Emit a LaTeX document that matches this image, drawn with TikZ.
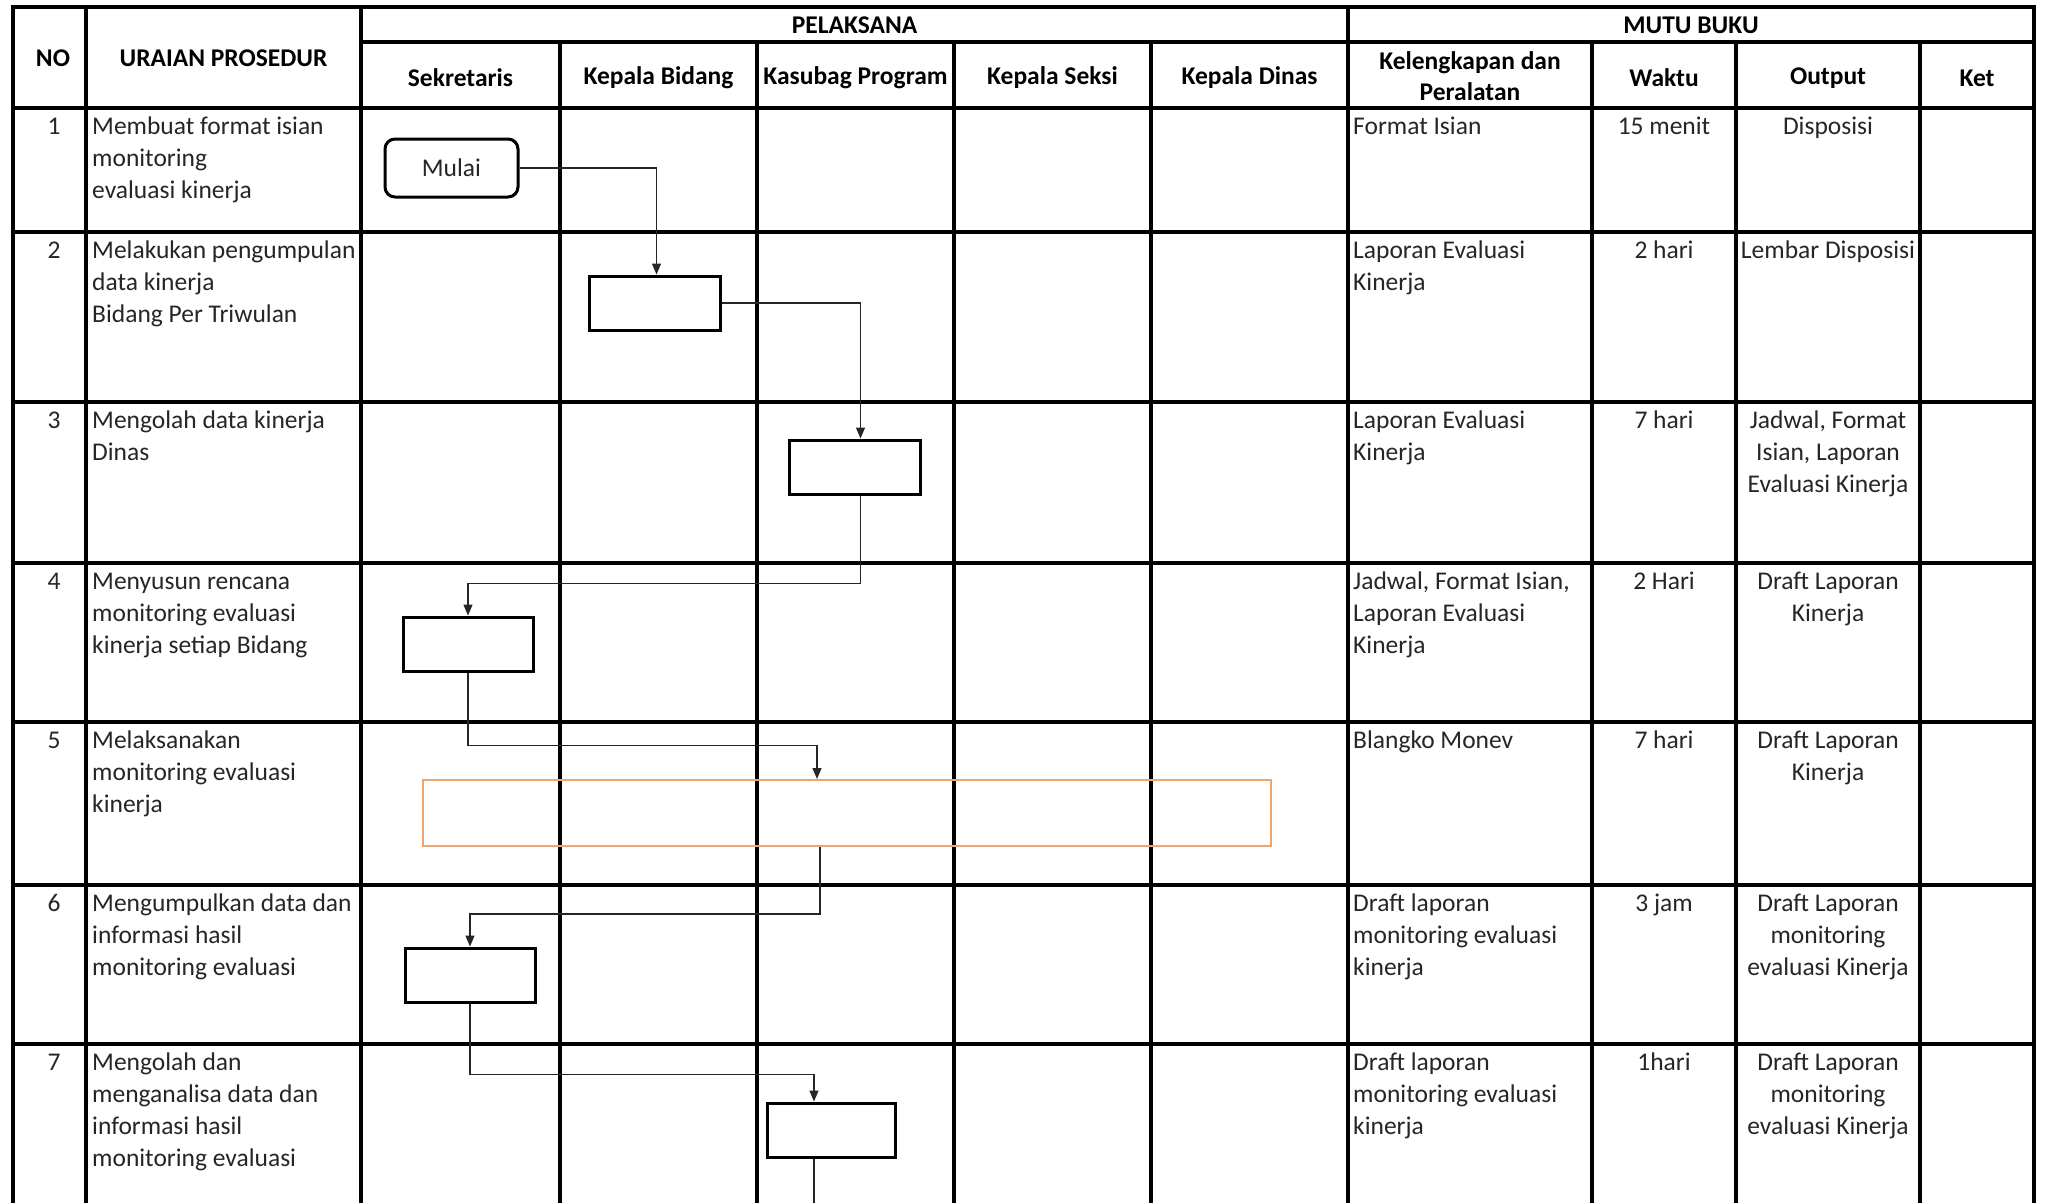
\documentclass[tikz,border=0pt]{standalone}
\usepackage{fontspec}
\setmainfont{Carlito}
\usetikzlibrary{arrows.meta}
\definecolor{orangeln}{RGB}{240,165,110}
\newcommand\cellfont{\fontsize{25.5}{32}\selectfont}
\newcommand\hdfont{\fontsize{25.5}{31}\selectfont\bfseries}
\begin{document}
\begin{tikzpicture}[x=1pt,y=-1pt,
  grid/.style={line width=3.5pt, line cap=rect},
  hd/.style={font=\hdfont, inner sep=0pt, align=center},
  cell/.style={font=\cellfont, inner sep=0pt, anchor=north west, align=left, text=black!85},
  ctr/.style={font=\cellfont, inner sep=0pt, anchor=north, align=center, text=black!85},
  proc/.style={draw, line width=3pt, minimum width=131pt, minimum height=54pt, inner sep=0pt},
  conn/.style={line width=1.4pt, draw=black!85},
  arr/.style={conn, -{Triangle[length=11pt,width=9pt]}}
]
\useasboundingbox (0,0) rectangle (2047,1202);
\fill[white] (0,0) rectangle (2047,1202);

% grid
\draw[grid] (13,7) -- (2034,7);
\draw[grid] (361,42) -- (2034,42);
\foreach \y in {108,232,402,563,722,885,1044} \draw[grid] (13,\y) -- (2034,\y);
\foreach \x in {13,86,361,1348,2034} \draw[grid] (\x,7) -- (\x,1210);
\foreach \x in {560,757,954,1151,1592,1736,1920} \draw[grid] (\x,42) -- (\x,1210);

% header
\node[hd] (hno) at (53,58) {NO};
\node[hd] (hur) at (223.5,58) {URAIAN PROSEDUR};
\node[hd] (hpel) at (854.5,25) {PELAKSANA};
\node[hd] (hmutu) at (1691,25) {MUTU BUKU};
\node[hd] (hsek) at (460.5,78) {Sekretaris};
\node[hd] (hkb) at (658.5,78) {Kepala Bidang};
\node[hd] (hkp) at (855.5,78) {Kasubag Program};
\node[hd] (hks) at (1052.5,78) {Kepala Seksi};
\node[hd] (hkd) at (1249.5,78) {Kepala Dinas};
\node[hd] (hkel) at (1470,76) {Kelengkapan dan\\Peralatan};
\node[hd] (hwak) at (1664,78) {Waktu};
\node[hd] (hout) at (1828,78) {Output};
\node[hd] (hket) at (1977,78) {Ket};

% row 1
\node[ctr] (n1) at (54,112) {\strut 1};
\node[cell] (u1) at (92,112) {\strut Membuat format isian\\monitoring\\evaluasi kinerja};
\node[cell] (k1) at (1353,112) {\strut Format Isian};
\node[ctr] (w1) at (1664,112) {\strut 15 menit};
\node[ctr] (o1) at (1828,112) {\strut Disposisi};
% row 2
\node[ctr] (n2) at (54,236) {\strut 2};
\node[cell] (u2) at (92,236) {\strut Melakukan pengumpulan\\data kinerja\\Bidang Per Triwulan};
\node[cell] (k2) at (1353,236) {\strut Laporan Evaluasi\\Kinerja};
\node[ctr] (w2) at (1664,236) {\strut 2 hari};
\node[ctr] (o2) at (1828,236) {\strut Lembar Disposisi};
% row 3
\node[ctr] (n3) at (54,406) {\strut 3};
\node[cell] (u3) at (92,406) {\strut Mengolah data kinerja\\Dinas};
\node[cell] (k3) at (1353,406) {\strut Laporan Evaluasi\\Kinerja};
\node[ctr] (w3) at (1664,406) {\strut 7 hari};
\node[ctr] (o3) at (1828,406) {\strut Jadwal, Format\\Isian, Laporan\\Evaluasi Kinerja};
% row 4
\node[ctr] (n4) at (54,567) {\strut 4};
\node[cell] (u4) at (92,567) {\strut Menyusun rencana\\monitoring evaluasi\\kinerja setiap Bidang};
\node[cell] (k4) at (1353,567) {\strut Jadwal, Format Isian,\\Laporan Evaluasi\\Kinerja};
\node[ctr] (w4) at (1664,567) {\strut 2 Hari};
\node[ctr] (o4) at (1828,567) {\strut Draft Laporan\\Kinerja};
% row 5
\node[ctr] (n5) at (54,726) {\strut 5};
\node[cell] (u5) at (92,726) {\strut Melaksanakan\\monitoring evaluasi\\kinerja};
\node[cell] (k5) at (1353,726) {\strut Blangko Monev};
\node[ctr] (w5) at (1664,726) {\strut 7 hari};
\node[ctr] (o5t) at (1828,726) {\strut Draft Laporan\\Kinerja};
% row 6
\node[ctr] (n6) at (54,889) {\strut 6};
\node[cell] (u6) at (92,889) {\strut Mengumpulkan data dan\\informasi hasil\\monitoring evaluasi};
\node[cell] (k6) at (1353,889) {\strut Draft laporan\\monitoring evaluasi\\kinerja};
\node[ctr] (w6) at (1664,889) {\strut 3 jam};
\node[ctr] (o6) at (1828,889) {\strut Draft Laporan\\monitoring\\evaluasi Kinerja};
% row 7
\node[ctr] (n7) at (54,1048) {\strut 7};
\node[cell] (u7) at (92,1048) {\strut Mengolah dan\\menganalisa data dan\\informasi hasil\\monitoring evaluasi};
\node[cell] (k7) at (1353,1048) {\strut Draft laporan\\monitoring evaluasi\\kinerja};
\node[ctr] (w7) at (1664,1048) {\strut 1hari};
\node[ctr] (o7) at (1828,1048) {\strut Draft Laporan\\monitoring\\evaluasi Kinerja};

% flow shapes
\node[proc, rounded corners=10pt, minimum width=133pt, minimum height=58pt, font=\cellfont, text=black!85] (mulai) at (451.5,168) {Mulai};
\node[proc] (b2) at (654.5,303) {};
\node[proc] (b3) at (854.5,467) {};
\node[proc, minimum width=130pt] (b4) at (468,644) {};
\node[draw=orangeln, line width=2pt, minimum width=848pt, minimum height=66pt, inner sep=0pt] (o5) at (847,813) {};
\node[proc, minimum width=130pt] (b6) at (470,975) {};
\node[proc, minimum width=128pt] (b7) at (831,1130) {};
\coordinate (bend) at (814,1210);

% connectors
\draw[arr] (mulai.east) -| ([xshift=2pt]b2.north);
\draw[arr] (b2.east) -| ([xshift=6pt]b3.north);
\draw[arr] ([xshift=6pt]b3.south) -- ++(0,88) -| (b4.north);
\draw[arr] (b4.south) -- ++(0,73) -| ([xshift=-30pt]o5.north);
\draw[arr] ([xshift=-27pt]o5.south) -- ++(0,67) -| (b6.north);
\draw[arr] (b6.south) -- ++(0,71) -| ([xshift=-17pt]b7.north);
\draw[conn] ([xshift=-17pt]b7.south) -- (bend);
\end{tikzpicture}
\end{document}
